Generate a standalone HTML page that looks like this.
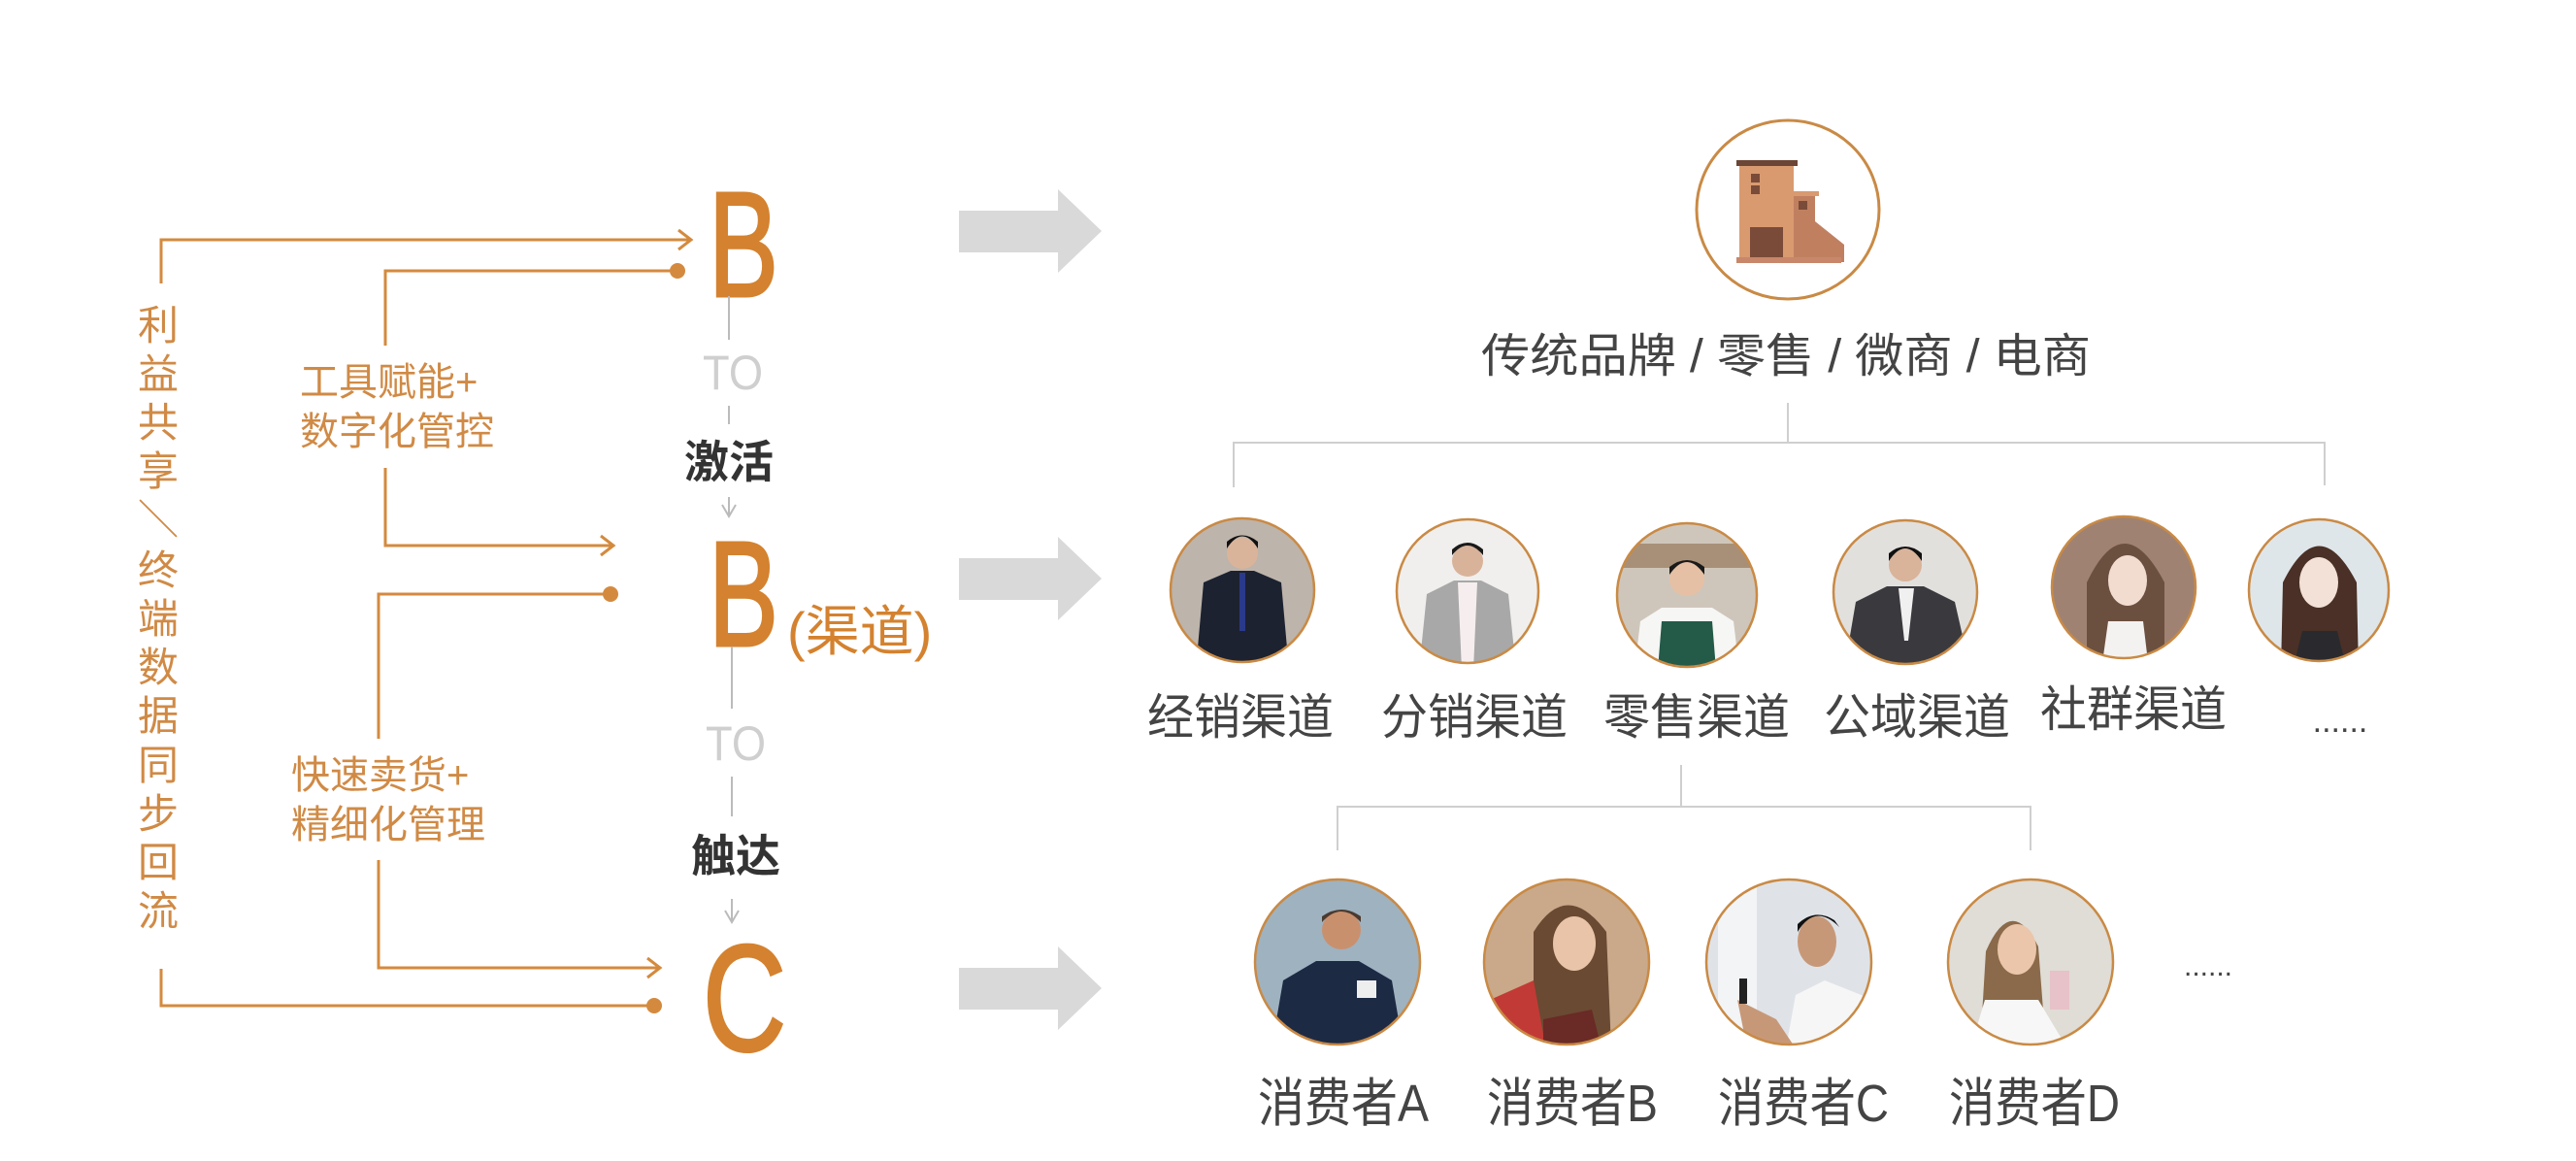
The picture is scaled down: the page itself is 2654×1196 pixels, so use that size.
<!DOCTYPE html>
<html><head><meta charset="utf-8"><style>
html,body{margin:0;padding:0;background:#fff;}
svg{display:block;}
text{font-family:"Liberation Sans","Noto Sans CJK SC",sans-serif;}
</style></head><body>
<svg width="2654" height="1196" viewBox="0 0 2654 1196" xmlns="http://www.w3.org/2000/svg">
<defs>
<clipPath id="c1"><ellipse cx="1280" cy="608" rx="74" ry="74"/></clipPath>
<clipPath id="c2"><ellipse cx="1512" cy="609" rx="73" ry="74"/></clipPath>
<clipPath id="c3"><ellipse cx="1738" cy="613" rx="72" ry="74"/></clipPath>
<clipPath id="c4"><ellipse cx="1963" cy="610" rx="74" ry="74"/></clipPath>
<clipPath id="c5"><ellipse cx="2188" cy="605" rx="74" ry="73"/></clipPath>
<clipPath id="c6"><ellipse cx="2389" cy="608" rx="72" ry="73"/></clipPath>
<clipPath id="d1"><ellipse cx="1378" cy="991" rx="85" ry="85"/></clipPath>
<clipPath id="d2"><ellipse cx="1614" cy="991" rx="85" ry="85"/></clipPath>
<clipPath id="d3"><ellipse cx="1843" cy="991" rx="85" ry="85"/></clipPath>
<clipPath id="d4"><ellipse cx="2092" cy="991" rx="85" ry="85"/></clipPath>
</defs>

<!-- orange connectors -->
<g stroke="#d48a3e" stroke-width="3" fill="none">
  <polyline points="166,292 166,247 711,247"/>
  <polyline points="699,237 712,247 699,257"/>
  <polyline points="166,998 166,1036 673,1036"/>
  <polyline points="397,356 397,279 697,279"/>
  <polyline points="397,482 397,562 631,562"/>
  <polyline points="619,552 632,562 619,572"/>
  <polyline points="390,761 390,612 628,612"/>
  <polyline points="390,886 390,997 679,997"/>
  <polyline points="667,987 680,997 667,1007"/>
</g>
<g fill="#d48a3e">
  <circle cx="698" cy="279" r="8"/>
  <circle cx="629" cy="612" r="8"/>
  <circle cx="674" cy="1036" r="8"/>
</g>

<!-- vertical text -->
<g fill="#d08a45" font-size="42" text-anchor="middle">
  <text x="163" y="350">利</text>
  <text x="163" y="400">益</text>
  <text x="163" y="450">共</text>
  <text x="163" y="500">享</text>
  <text x="163" y="550">＼</text>
  <text x="163" y="602">终</text>
  <text x="163" y="652">端</text>
  <text x="163" y="702">数</text>
  <text x="163" y="752">据</text>
  <text x="163" y="803">同</text>
  <text x="163" y="853">步</text>
  <text x="163" y="903">回</text>
  <text x="163" y="953">流</text>
</g>
<g fill="#d08a45" font-size="40">
  <text x="309" y="407">工具赋能+</text>
  <text x="309" y="458">数字化管控</text>
  <text x="300" y="812">快速卖货+</text>
  <text x="300" y="863">精细化管理</text>
</g>

<!-- B / C letters -->
<g fill="#d4822f" stroke="#d4822f" stroke-width="3">
  <text x="730" y="305" font-size="154" textLength="72" lengthAdjust="spacingAndGlyphs">B</text>
  <text x="730" y="665" font-size="154" textLength="72" lengthAdjust="spacingAndGlyphs">B</text>
  <text x="724" y="1082" font-size="156" textLength="86" lengthAdjust="spacingAndGlyphs">C</text>
</g>
<text x="811" y="670" font-size="56" fill="#d4822f">(渠道)</text>

<!-- gray center flow -->
<g stroke="#bbb" stroke-width="2" fill="none">
  <line x1="751" y1="305" x2="751" y2="350"/>
  <line x1="751" y1="418" x2="751" y2="437"/>
  <line x1="751" y1="512" x2="751" y2="532"/>
  <polyline points="744,520 751,532 758,520"/>
  <line x1="754" y1="666" x2="754" y2="730"/>
  <line x1="754" y1="800" x2="754" y2="841"/>
  <line x1="754" y1="926" x2="754" y2="950"/>
  <polyline points="747,938 754,950 761,938"/>
</g>
<g font-size="50" fill="#cfcfcf">
  <text x="724" y="401" textLength="62" lengthAdjust="spacingAndGlyphs">TO</text>
  <text x="727" y="783" textLength="62" lengthAdjust="spacingAndGlyphs">TO</text>
</g>
<g font-size="46" font-weight="bold" fill="#333">
  <text x="705" y="492">激活</text>
  <text x="712" y="898">触达</text>
</g>

<!-- big gray arrows -->
<g fill="#d9d9d9">
  <polygon points="988,217 1090,217 1090,195 1135,238 1090,281 1090,260 988,260"/>
  <polygon points="988,575 1090,575 1090,553 1135,596 1090,639 1090,618 988,618"/>
  <polygon points="988,997 1090,997 1090,975 1135,1018 1090,1061 1090,1040 988,1040"/>
</g>

<!-- top circle with building -->
<ellipse cx="1842" cy="216" rx="94" ry="92" fill="#fff" stroke="#c98a45" stroke-width="3"/>
<rect x="1792" y="170" width="56" height="100" fill="#d99a70"/>
<rect x="1789" y="165" width="63" height="6" fill="#6b4535"/>
<rect x="1804" y="179" width="9" height="9" fill="#7a4b38"/>
<rect x="1804" y="191" width="9" height="9" fill="#7a4b38"/>
<rect x="1803" y="234" width="34" height="31" fill="#7a4b38"/>
<polygon points="1848,200 1870,200 1870,228 1900,252 1900,270 1848,270" fill="#c08060"/>
<rect x="1848" y="197" width="26" height="5" fill="#d99a70"/>
<rect x="1853" y="207" width="9" height="9" fill="#7a4b38"/>
<rect x="1789" y="265" width="108" height="6" fill="#c8876a"/>

<text x="1840" y="383" font-size="48" fill="#444" text-anchor="middle" textLength="628" lengthAdjust="spacingAndGlyphs">传统品牌 / 零售 / 微商 / 电商</text>

<!-- channel tree -->
<g stroke="#cfcfcf" stroke-width="2" fill="none">
  <line x1="1842" y1="415" x2="1842" y2="456"/>
  <polyline points="1271,502 1271,456 2395,456 2395,500"/>
  <line x1="1732" y1="788" x2="1732" y2="831"/>
  <polyline points="1378,876 1378,831 2092,831 2092,876"/>
</g>

<!-- channel photos -->
<g clip-path="url(#c1)"><rect x="1200" y="530" width="160" height="160" fill="#bdb4ab"/><path d="M1232,690 L1240,600 L1268,588 L1292,588 L1320,600 L1328,690Z" fill="#1c2230"/><circle cx="1280" cy="570" r="16" fill="#d9b49a"/><path d="M1264,565 Q1280,540 1296,565 L1296,558 Q1280,545 1264,558Z" fill="#111"/><rect x="1277" y="590" width="6" height="60" fill="#2a3a8a"/></g>
<ellipse cx="1280" cy="608" rx="74" ry="74" fill="none" stroke="#c98a45" stroke-width="2.5"/>

<g clip-path="url(#c2)"><rect x="1435" y="530" width="160" height="160" fill="#f0efed"/><path d="M1462,690 L1470,612 L1498,598 L1526,598 L1554,612 L1562,690Z" fill="#a8a8a8"/><path d="M1502,600 L1522,600 L1518,690 L1506,690Z" fill="#f6eeee"/><circle cx="1512" cy="578" r="16" fill="#d8b39a"/><path d="M1496,572 Q1512,552 1528,572 L1528,566 Q1512,552 1496,566Z" fill="#1a1a1a"/></g>
<ellipse cx="1512" cy="609" rx="73" ry="74" fill="none" stroke="#c98a45" stroke-width="2.5"/>

<g clip-path="url(#c3)"><rect x="1660" y="535" width="160" height="160" fill="#cfc6bb"/><rect x="1660" y="560" width="160" height="25" fill="#a89078"/><path d="M1684,690 L1690,640 L1712,626 L1764,626 L1786,640 L1792,690Z" fill="#f6f6f4"/><path d="M1712,640 L1764,640 L1768,690 L1708,690Z" fill="#235a48"/><circle cx="1738" cy="596" r="18" fill="#e5c0a4"/><path d="M1720,592 Q1738,566 1756,592 L1756,584 Q1738,570 1720,584Z" fill="#1a1a1a"/></g>
<ellipse cx="1738" cy="613" rx="72" ry="74" fill="none" stroke="#c98a45" stroke-width="2.5"/>

<g clip-path="url(#c4)"><rect x="1885" y="530" width="160" height="160" fill="#e2e0dd"/><path d="M1900,690 L1912,620 L1944,604 L1982,604 L2014,620 L2030,690Z" fill="#3a3a3e"/><path d="M1956,606 L1972,606 L1966,660 L1962,660Z" fill="#f0f0f0"/><circle cx="1963" cy="582" r="17" fill="#d9b39a"/><path d="M1946,578 Q1963,552 1980,578 L1980,570 Q1963,556 1946,570Z" fill="#111"/></g>
<ellipse cx="1963" cy="610" rx="74" ry="74" fill="none" stroke="#c98a45" stroke-width="2.5"/>

<g clip-path="url(#c5)"><rect x="2110" y="528" width="160" height="160" fill="#a08272"/><path d="M2150,690 L2150,600 Q2188,520 2230,600 L2230,690Z" fill="#6b5040"/><path d="M2165,690 L2172,640 L2208,640 L2214,690Z" fill="#f4f2f0"/><ellipse cx="2192" cy="598" rx="20" ry="26" fill="#f2dcd0"/></g>
<ellipse cx="2188" cy="605" rx="74" ry="73" fill="none" stroke="#c98a45" stroke-width="2.5"/>

<g clip-path="url(#c6)"><rect x="2314" y="530" width="160" height="160" fill="#dfe6ea"/><path d="M2350,690 L2352,600 Q2389,525 2428,600 L2430,690Z" fill="#4a3026"/><path d="M2362,690 L2372,650 L2408,650 L2418,690Z" fill="#2a2a2e"/><ellipse cx="2389" cy="600" rx="20" ry="26" fill="#f3e0d6"/></g>
<ellipse cx="2389" cy="608" rx="72" ry="73" fill="none" stroke="#c98a45" stroke-width="2.5"/>

<g font-size="50" fill="#444" text-anchor="middle">
  <text x="1278" y="756" textLength="192" lengthAdjust="spacingAndGlyphs">经销渠道</text>
  <text x="1519" y="756" textLength="192" lengthAdjust="spacingAndGlyphs">分销渠道</text>
  <text x="1748" y="756" textLength="192" lengthAdjust="spacingAndGlyphs">零售渠道</text>
  <text x="1975" y="756" textLength="192" lengthAdjust="spacingAndGlyphs">公域渠道</text>
  <text x="2198" y="748" textLength="192" lengthAdjust="spacingAndGlyphs">社群渠道</text>
  <text x="2411" y="754" font-size="34">......</text>
</g>

<!-- consumer photos -->
<g clip-path="url(#d1)"><rect x="1290" y="904" width="180" height="180" fill="#9fb2c0"/><path d="M1310,1080 L1322,1010 L1356,990 L1400,990 L1434,1010 L1446,1080Z" fill="#1d2a44"/><circle cx="1382" cy="958" r="20" fill="#c9906e"/><path d="M1362,950 Q1382,928 1402,950 L1402,944 Q1382,930 1362,944Z" fill="#4a3a30"/><rect x="1398" y="1010" width="20" height="18" fill="#eee"/></g>
<ellipse cx="1378" cy="991" rx="85" ry="85" fill="none" stroke="#c98a45" stroke-width="2.5"/>

<g clip-path="url(#d2)"><rect x="1525" y="904" width="180" height="180" fill="#c9a98a"/><path d="M1580,1080 L1580,960 Q1614,905 1655,960 L1660,1080Z" fill="#6a4a32"/><ellipse cx="1622" cy="972" rx="22" ry="28" fill="#e9c4a8"/><path d="M1535,1030 L1580,1010 L1592,1076 L1545,1076Z" fill="#c23a35"/><path d="M1590,1050 L1640,1040 L1650,1080 L1590,1080Z" fill="#6a2a26"/></g>
<ellipse cx="1614" cy="991" rx="85" ry="85" fill="none" stroke="#c98a45" stroke-width="2.5"/>

<g clip-path="url(#d3)"><rect x="1755" y="904" width="180" height="180" fill="#dfe3e8"/><rect x="1770" y="904" width="40" height="180" fill="#f2f4f6"/><path d="M1840,1080 L1850,1025 L1880,1010 L1930,1030 L1930,1080Z" fill="#f6f6f6"/><ellipse cx="1872" cy="970" rx="20" ry="26" fill="#c79878"/><path d="M1852,960 Q1870,930 1895,955 L1890,948 Q1870,935 1852,952Z" fill="#111"/><path d="M1790,1030 L1830,1050 L1850,1080 L1800,1080Z" fill="#c79878"/><rect x="1792" y="1008" width="8" height="26" fill="#222"/></g>
<ellipse cx="1843" cy="991" rx="85" ry="85" fill="none" stroke="#c98a45" stroke-width="2.5"/>

<g clip-path="url(#d4)"><rect x="2005" y="904" width="180" height="180" fill="#e0dcd6"/><path d="M2040,1080 L2046,980 Q2072,920 2100,975 L2108,1080Z" fill="#8a6a4a"/><ellipse cx="2078" cy="978" rx="20" ry="26" fill="#ebc6aa"/><path d="M2030,1080 L2045,1030 L2100,1030 L2130,1080Z" fill="#f7f7f7"/><rect x="2112" y="1000" width="20" height="40" fill="#e7c2c8"/></g>
<ellipse cx="2092" cy="991" rx="85" ry="85" fill="none" stroke="#c98a45" stroke-width="2.5"/>

<text x="2275" y="1005" font-size="30" fill="#444" text-anchor="middle">......</text>
<g font-size="54" fill="#444" text-anchor="middle">
  <text x="1384" y="1155" textLength="176" lengthAdjust="spacingAndGlyphs">消费者A</text>
  <text x="1620" y="1155" textLength="176" lengthAdjust="spacingAndGlyphs">消费者B</text>
  <text x="1858" y="1155" textLength="176" lengthAdjust="spacingAndGlyphs">消费者C</text>
  <text x="2096" y="1155" textLength="176" lengthAdjust="spacingAndGlyphs">消费者D</text>
</g>
</svg>
</body></html>
